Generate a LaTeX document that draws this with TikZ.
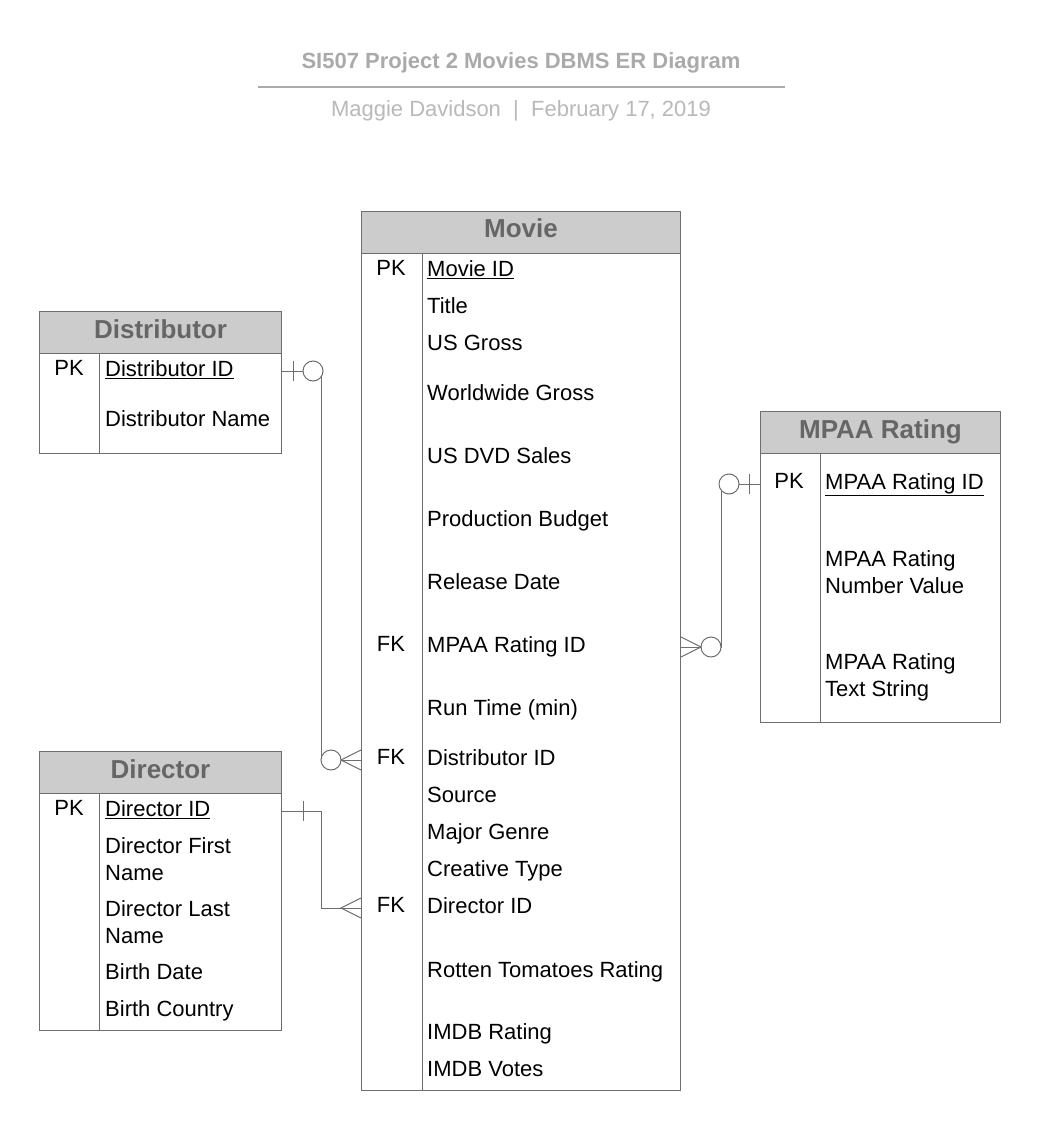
\documentclass[tikz,border=0pt]{standalone}
\usepackage{fontspec}
\setmainfont{Liberation Sans}
\usetikzlibrary{positioning,calc}
\definecolor{HeadFill}{RGB}{204,204,204}
\definecolor{HeadText}{RGB}{102,102,102}
\definecolor{LineGray}{RGB}{110,110,110}
\definecolor{TitleGray}{RGB}{170,170,170}
\definecolor{SubGray}{RGB}{185,185,185}
\tikzset{
  head/.style={draw=LineGray,fill=HeadFill,text=HeadText,line width=1pt,inner sep=0pt,
    anchor=north west,minimum height=42pt,text height=19pt,text depth=8pt,
    font=\fontsize{26}{30}\selectfont\bfseries},
  tbl/.style={draw=LineGray,line width=1pt,inner sep=0pt,anchor=north west},
  key/.style={font=\fontsize{22}{27}\selectfont,inner sep=0pt},
  field/.style={font=\fontsize{22}{27}\selectfont,anchor=mid west,align=left,inner sep=0pt},
  rel/.style={draw=LineGray,line width=1pt},
  ring/.style={circle,draw=LineGray,fill=white,line width=1pt,minimum size=20pt,inner sep=0pt},
}

\begin{document}
\begin{tikzpicture}[x=1pt,y=-1pt]
\useasboundingbox[fill=white] (0,0) rectangle (1041,1131);
% title block
\node[font=\fontsize{22}{26}\selectfont\bfseries,text=TitleGray] (title) at (521,63) {SI507 Project 2 Movies DBMS ER Diagram};
\coordinate (rulel) at (258,87); \coordinate (ruler) at (785,87);
\draw[TitleGray,line width=1.5pt] (rulel) -- (ruler);
\node[font=\fontsize{22}{26}\selectfont,text=SubGray] (byline) at (521,111) {Maggie Davidson \ | \ February 17, 2019};

% Movie
\node[head,minimum width=319pt] (movieh) at (361,211) {Movie};
\node[tbl,minimum width=319pt,minimum height=837pt] (movie) at (361,253) {};
\draw[rel] ([xshift=61pt]movie.north west) -- ([xshift=61pt]movie.south west);
\foreach \y/\t/\n in {274/\underline{Movie ID}/mid,311/Title/mtitle,348/US Gross/mgross,
  398/Worldwide Gross/mworld,461/US DVD Sales/mdvd,524/Production Budget/mbudget,
  587/Release Date/mdate,650/MPAA Rating ID/mmpaa,713/Run Time (min)/mrun,
  763/Distributor ID/mdist,800/Source/msource,837/Major Genre/mgenre,
  874/Creative Type/mtype,911/Director ID/mdir,975/Rotten Tomatoes Rating/mrotten,
  1037/IMDB Rating/mimdb,1074/IMDB Votes/mvotes}
  \node[field] (\n) at (427,\y) {\t};
\foreach \y/\k in {268/PK,644/FK,757/FK,905/FK}
  \node[key] at (391,\y) {\k};

% Distributor
\node[head,minimum width=242pt] (disth) at (39,311) {Distributor};
\node[tbl,minimum width=242pt,minimum height=100pt] (dist) at (39,353) {};
\draw[rel] ([xshift=60pt]dist.north west) -- ([xshift=60pt]dist.south west);
\node[key] at (69,368) {PK};
\node[field] (did) at (105,374) {\underline{Distributor ID}};
\node[field] (dname) at (105,424) {Distributor Name};

% Director
\node[head,minimum width=242pt] (dirh) at (39,751) {Director};
\node[tbl,minimum width=242pt,minimum height=237pt] (dir) at (39,793) {};
\draw[rel] ([xshift=60pt]dir.north west) -- ([xshift=60pt]dir.south west);
\node[key] at (69,808) {PK};
\node[field] (drid) at (105,814) {\underline{Director ID}};
\node[field] (drfirst) at (105,878) {Director First\\Name};
\node[field] (drlast) at (105,941) {Director Last\\Name};
\node[field] (drdate) at (105,977) {Birth Date};
\node[field] (drcountry) at (105,1014) {Birth Country};

% MPAA Rating
\node[head,minimum width=240pt] (mpaah) at (760,411) {MPAA Rating};
\node[tbl,minimum width=240pt,minimum height=269pt] (mpaa) at (760,453) {};
\draw[rel] ([xshift=60pt]mpaa.north west) -- ([xshift=60pt]mpaa.south west);
\node[key] at (789,481) {PK};
\node[field] (rid) at (825,487) {\underline{MPAA Rating ID}};
\node[field] (rnum) at (825,591) {MPAA Rating\\Number Value};
\node[field] (rtext) at (825,694) {MPAA Rating\\Text String};

% relationships
\coordinate (dA) at ($(dist.east |- did.mid)+(0,-3)$);
\coordinate (dB) at ($(movie.west |- mdist.mid)+(0,-3)$);
\coordinate (drA) at ($(dir.east |- drid.mid)+(0,-3)$);
\coordinate (drB) at ($(movie.west |- mdir.mid)+(0,-3)$);
\coordinate (rA) at ($(mpaa.west |- rid.mid)+(0,-3)$);
\coordinate (rB) at ($(movie.east |- mmpaa.mid)+(0,-3)$);

\draw[rel] (dA) -| ($(dB)+(-40,0)$) -- (dB);
\draw[rel] ($(dA)+(11,-10)$) -- ++(0,20);
\node[ring] (dring) at ($(dA)+(31,0)$) {};
\node[ring] (mdring) at ($(dB)+(-30,0)$) {};
\draw[rel] ($(dB)+(0,-10)$) -- ++(-20,10) -- ++(20,10);

\draw[rel] (drA) -| ($(drB)+(-40,0)$) -- (drB);
\draw[rel] ($(drA)+(21,-10)$) -- ++(0,20);
\draw[rel] ($(drB)+(0,-10)$) -- ++(-20,10) -- ++(20,10);

\draw[rel] (rA) -| ($(rB)+(40,0)$) -- (rB);
\draw[rel] ($(rA)+(-11,-10)$) -- ++(0,20);
\node[ring] (rring) at ($(rA)+(-31,0)$) {};
\node[ring] (mrring) at ($(rB)+(30,0)$) {};
\draw[rel] ($(rB)+(0,-10)$) -- ++(20,10) -- ++(-20,10);
\end{tikzpicture}
\end{document}
